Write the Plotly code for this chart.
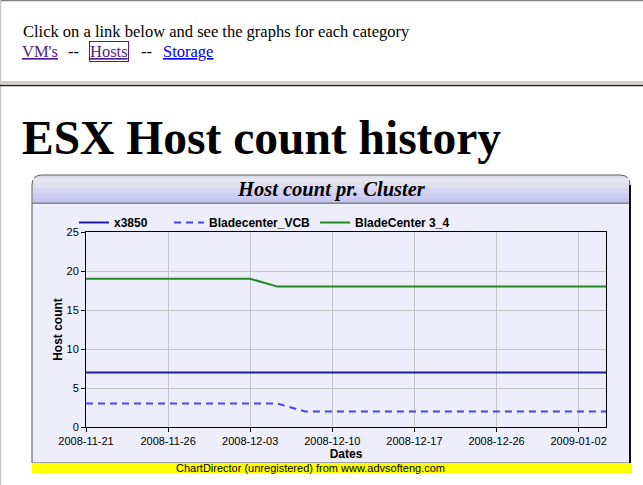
import plotly.graph_objects as go

W, H = 643, 485

dates = ["2008-11-21", "2008-11-24", "2008-11-25", "2008-11-26", "2008-11-28", "2008-12-01",
         "2008-12-03", "2008-12-05", "2008-12-08", "2008-12-10", "2008-12-12", "2008-12-15",
         "2008-12-17", "2008-12-19", "2008-12-22", "2008-12-26", "2008-12-29", "2008-12-31",
         "2009-01-02", "2009-01-05"]
x3850 = [7] * 20
bladecenter_vcb = [3, 3, 3, 3, 3, 3, 3, 3, 2, 2, 2, 2, 2, 2, 2, 2, 2, 2, 2, 2]
bladecenter_3_4 = [19, 19, 19, 19, 19, 19, 19, 18, 18, 18, 18, 18, 18, 18, 18, 18, 18, 18, 18, 18]
tick_dates = dates[::3]
y_ticks = [0, 5, 10, 15, 20, 25]


def px(x):
    return x / W


def py(y):
    return 1 - y / H


NB = "\u00a0"
fig = go.Figure()
fig.add_trace(go.Scatter(x=dates, y=x3850, name="x3850" + NB * 5, mode="lines",
                         line=dict(color="#1c1ca6", width=2)))
fig.add_trace(go.Scatter(x=dates, y=bladecenter_vcb, name="Bladecenter_VCB", mode="lines",
                         line=dict(color="#4646ee", width=2, dash="7px,5px")))
fig.add_trace(go.Scatter(x=dates, y=bladecenter_3_4, name="BladeCenter 3_4", mode="lines",
                         line=dict(color="#1f8a1f", width=2)))

shapes = []
# page frame lines
shapes.append(dict(type="line", xref="paper", yref="paper", x0=0, x1=1, y0=py(0.5), y1=py(0.5),
                   line=dict(color="#808080", width=1.5)))
shapes.append(dict(type="line", xref="paper", yref="paper", x0=px(0.5), x1=px(0.5), y0=0, y1=1,
                   line=dict(color="#c8c8c8", width=1.5)))
shapes.append(dict(type="rect", xref="paper", yref="paper", x0=0, x1=1, y0=py(84), y1=py(81),
                   fillcolor="#d4d0c8", line=dict(width=0)))
shapes.append(dict(type="line", xref="paper", yref="paper", x0=0, x1=1, y0=py(85.5), y1=py(85.5),
                   line=dict(color="#202020", width=1.5)))
# chart box body
shapes.append(dict(type="rect", xref="paper", yref="paper", x0=px(32), x1=px(630), y0=py(463), y1=py(203),
                   fillcolor="#ededfb", line=dict(color="#505050", width=1), layer="below"))
# header with rounded top
r = 10
x0h, x1h, y0h, y1h = 32, 630, 175, 203


def hp(x, y):
    return f"{px(x):.5f},{py(y):.5f}"


path = (f"M {hp(x0h, y1h)} L {hp(x0h, y0h + r)} Q {hp(x0h, y0h)} {hp(x0h + r, y0h)} "
        f"L {hp(x1h - r, y0h)} Q {hp(x1h, y0h)} {hp(x1h, y0h + r)} L {hp(x1h, y1h)} Z")
shapes.append(dict(type="path", xref="paper", yref="paper", path=path,
                   fillcolor="#dcdcec", line=dict(color="#606060", width=1), layer="below"))
bands = ["#e6e6ee", "#dfdff0", "#d6d6f2", "#cdcdf2", "#c6c6f0"]
for i, c in enumerate(bands):
    ya = 178 + i * 5
    shapes.append(dict(type="rect", xref="paper", yref="paper", x0=px(33), x1=px(629),
                       y0=py(min(ya + 5, 202.5)), y1=py(ya), fillcolor=c, line=dict(width=0), layer="below"))
shapes.append(dict(type="line", xref="paper", yref="paper", x0=px(32), x1=px(630), y0=py(203), y1=py(203),
                   line=dict(color="#9090a0", width=1)))
# right dark edge
shapes.append(dict(type="line", xref="paper", yref="paper", x0=px(630), x1=px(630), y0=py(463), y1=py(185),
                   line=dict(color="#101010", width=2)))
# yellow band
shapes.append(dict(type="rect", xref="paper", yref="paper", x0=px(32), x1=px(632), y0=py(473), y1=py(463),
                   fillcolor="#ffff00", line=dict(width=0)))


def ann(text, x, y, size, color="#000000", family="Liberation Serif", xanchor="left", **kw):
    d = dict(text=text, xref="paper", yref="paper", x=px(x), y=py(y), xanchor=xanchor,
             yanchor="middle", showarrow=False, font=dict(family=family, size=size, color=color))
    d.update(kw)
    return d


annotations = [
    ann("Click on a link below and see the graphs for each category", 21, 32, 16.5),
    ann("<u>VM's</u>", 20, 52, 16.5, "#551a8b"),
    ann("--", 66, 52, 16.5),
    ann("<u>Hosts</u>", 89, 52, 16.5, "#551a8b", bordercolor="#551a8b", borderwidth=1, borderpad=0),
    ann("--", 139, 52, 16.5),
    ann("<u>Storage</u>", 161, 52, 16.5, "#0000ee"),
    ann("<b>ESX Host count history</b>", 20, 138, 47.5),
    ann("<b><i>Host count pr. Cluster</i></b>", 331, 190, 20.5, xanchor="center"),
    ann("ChartDirector (unregistered) from www.advsofteng.com", 310.5, 468, 11,
        family="Liberation Sans", xanchor="center"),
]

fig.update_layout(
    width=W, height=H,
    autosize=False,
    margin=dict(l=0, r=0, t=0, b=0, pad=0),
    paper_bgcolor="#ffffff",
    plot_bgcolor="#ffffff",
    shapes=shapes,
    annotations=annotations,
    showlegend=True,
    legend=dict(orientation="h", x=px(74), y=py(208), xanchor="left", yanchor="top",
                bgcolor="rgba(0,0,0,0)",
                font=dict(family="Liberation Sans", size=12, color="#000000", weight="bold"),
                itemwidth=30, tracegroupgap=0),
    xaxis=dict(domain=[px(86), px(606)], type="category", range=[0, 19], automargin=False,
               tickmode="array", tickvals=tick_dates, ticktext=tick_dates,
               showgrid=True, gridcolor="#c4c4c4", gridwidth=1,
               ticks="outside", ticklen=4, tickcolor="#000000",
               showline=True, linecolor="#000000", linewidth=1, mirror=True,
               tickfont=dict(family="Liberation Sans", size=11, color="#000000"),
               title=dict(text="<b>Dates</b>", standoff=3,
                          font=dict(family="Liberation Sans", size=12, color="#000000")),
               zeroline=False, fixedrange=True),
    yaxis=dict(domain=[py(427), py(232)], range=[0, 25], automargin=False,
               tickmode="array", tickvals=y_ticks,
               showgrid=True, gridcolor="#c4c4c4", gridwidth=1,
               ticks="outside", ticklen=4, tickcolor="#000000",
               showline=True, linecolor="#000000", linewidth=1, mirror=True,
               tickfont=dict(family="Liberation Sans", size=11, color="#000000"),
               title=dict(text="<b>Host count</b>", standoff=1,
                          font=dict(family="Liberation Sans", size=12, color="#000000")),
               zeroline=False, fixedrange=True),
)

fig.write_html("out.html", config={"displayModeBar": False},
               post_script="document.body.style.margin='0';")
